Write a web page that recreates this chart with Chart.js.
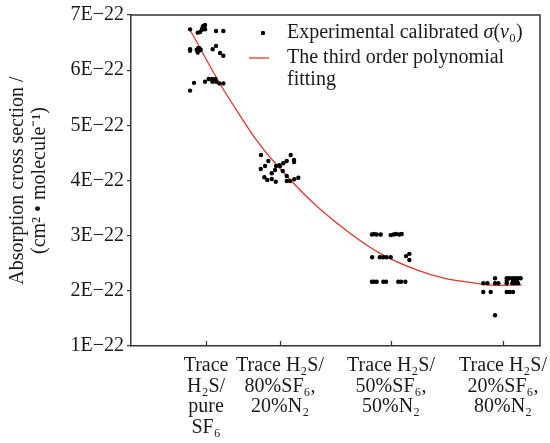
<!DOCTYPE html>
<html><head><meta charset="utf-8">
<script src="https://cdn.jsdelivr.net/npm/chart.js@4/dist/chart.umd.min.js"></script>
<style>html,body{margin:0;padding:0;background:#fff}#wrap{width:550px;height:443px}</style>
</head><body><div id="wrap"><canvas id="c" width="550" height="443"></canvas></div>
<script>
// Category labels and their positions on the x axis
const categoryLabels = [
  ["Trace", "H₂S/", "pure", "SF₆"],
  ["Trace H₂S/", "80%SF₆,", "20%N₂"],
  ["Trace H₂S/", "50%SF₆,", "50%N₂"],
  ["Trace H₂S/", "20%SF₆,", "80%N₂"]
];
const categoryPositions = [1, 1.667, 2.667, 3.676];
// y values are in units of 1E-22 cm^2/molecule
const yTickSuffix = "E−22";

// Experimental calibrated sigma(nu0)
const expX = [
  0.856,0.925,0.946,0.961,0.976,0.991,0.991,1.090,1.156,0.970,0.985,
  0.856,0.856,0.916,0.940,0.952,0.925,1.060,1.090,1.126,1.156,0.946,0.930,
  0.892,0.856,0.991,1.024,1.054,1.057,1.084,1.090,1.120,1.156,
  1.495,1.561,1.532,1.493,1.525,1.552,1.592,1.628,1.592,1.622,1.631,1.660,1.667,1.696,1.727,1.763,1.793,1.793,1.691,1.727,1.727,1.757,1.795,1.832,
  2.495,2.514,2.538,2.574,2.664,2.690,2.712,2.741,2.763,
  2.497,2.566,2.596,2.626,2.664,2.802,2.832,2.832,
  2.495,2.514,2.538,2.597,2.622,2.732,2.757,2.796,
  3.498,3.535,3.604,3.604,3.634,
  3.709,3.732,3.759,3.784,3.811,3.835,
  3.709,3.766,3.800,
  3.709,3.759,3.784,3.811,
  3.498,3.565,3.709,3.736,3.766,
  3.604
];
const expY = [
  6.74,6.68,6.69,6.73,6.80,6.82,6.74,6.71,6.71,6.78,6.77,
  6.38,6.35,6.37,6.40,6.37,6.32,6.38,6.44,6.31,6.26,6.36,6.40,
  5.77,5.63,5.79,5.84,5.84,5.79,5.84,5.79,5.76,5.76,
  4.462,4.354,4.263,4.209,4.058,4.009,4.027,3.978,4.131,4.191,4.263,4.276,4.263,4.312,4.354,4.462,4.372,4.336,4.172,4.082,3.991,3.991,4.022,4.051,
  3.02,3.03,3.02,3.02,3.01,3.02,3.03,3.02,3.03,
  2.61,2.61,2.61,2.61,2.61,2.63,2.67,2.56,
  2.166,2.166,2.166,2.166,2.166,2.166,2.166,2.166,
  2.137,2.137,2.227,2.137,2.137,
  2.227,2.227,2.227,2.227,2.227,2.227,
  2.184,2.184,2.184,
  2.137,2.137,2.137,2.137,
  1.979,1.979,1.979,1.979,1.979,
  1.557
];

// Third order polynomial fitting curve
const fitX = [0.856, 1.216, 1.637, 2.297, 2.898, 3.498, 3.844];
const fitY = [6.728, 5.459, 4.281, 3.043, 2.378, 2.119, 2.106];

const FONT = "'Liberation Serif','Times New Roman',serif";
const RED = '#e8352b';

const framePlugin = {
  id: 'frame',
  afterDraw(chart) {
    const {ctx, chartArea: a, scales: {x}} = chart;
    ctx.save();
    ctx.strokeStyle = '#333';
    ctx.lineWidth = 1.5;
    ctx.beginPath();
    ctx.moveTo(a.left, a.top); ctx.lineTo(a.right, a.top); ctx.lineTo(a.right, a.bottom);
    ctx.stroke();
    // inward ticks on the x axis
    ctx.lineWidth = 1.2;
    categoryPositions.forEach(v => {
      const px = Math.round(x.getPixelForValue(v)) + 0.5;
      ctx.beginPath(); ctx.moveTo(px, a.bottom); ctx.lineTo(px, a.bottom - 5); ctx.stroke();
    });
    // legend
    const lx = a.left;
    ctx.fillStyle = '#000';
    ctx.beginPath(); ctx.arc(lx + 132, 33, 2.2, 0, Math.PI * 2); ctx.fill();
    ctx.strokeStyle = RED; ctx.lineWidth = 1.3;
    ctx.beginPath(); ctx.moveTo(lx + 118, 58); ctx.lineTo(lx + 138, 58); ctx.stroke();
    ctx.fillStyle = '#1a1a1a';
    ctx.textBaseline = 'middle';
    ctx.textAlign = 'left';
    const parts = [
      ['normal', 'Experimental calibrated '],
      ['italic', 'σ'],
      ['normal', '('],
      ['italic', 'ν'],
      ['normal', '₀)']
    ];
    let tx = lx + 156;
    parts.forEach(([st, t]) => {
      ctx.font = st + ' 20px ' + FONT;
      ctx.fillText(t, tx, 33);
      tx += ctx.measureText(t).width;
    });
    ctx.font = '20px ' + FONT;
    ctx.fillText('The third order polynomial', lx + 156, 58);
    ctx.fillText('fitting', lx + 156, 80);
    ctx.restore();
  }
};

new Chart(document.getElementById('c'), {
  type: 'scatter',
  data: {
    datasets: [
      {
        label: 'Experimental calibrated σ(ν₀)',
        data: expX.map((x, i) => ({x, y: expY[i]})),
        backgroundColor: '#000', borderColor: '#000',
        pointRadius: 2.2, pointBorderWidth: 0, order: 1
      },
      {
        label: 'The third order polynomial fitting',
        type: 'line',
        data: fitX.map((x, i) => ({x, y: fitY[i]})),
        borderColor: RED, borderWidth: 1.3, pointRadius: 0,
        tension: 0.4, fill: false, order: 2
      }
    ]
  },
  options: {
    responsive: false, animation: false, devicePixelRatio: 1,
    layout: {padding: {top: 15, right: 10, left: 0, bottom: 0}},
    plugins: {legend: {display: false}, tooltip: {enabled: false}},
    scales: {
      x: {
        type: 'linear', min: 0.324, max: 4.009,
        afterBuildTicks: s => { s.ticks = categoryPositions.map(v => ({value: v})); },
        ticks: {
          callback: (v, i) => categoryLabels[i],
          autoSkip: false, maxRotation: 0, minRotation: 0,
          font: {family: FONT, size: 20, lineHeight: 1.02}, color: '#1a1a1a', padding: 2
        },
        grid: {display: false},
        border: {display: true, color: '#333', width: 1.5},
        afterFit: s => { s.height = 97; }
      },
      y: {
        type: 'linear', min: 1, max: 7,
        ticks: {
          stepSize: 1,
          callback: v => v + yTickSuffix,
          font: {family: FONT, size: 20}, color: '#1a1a1a', padding: 3
        },
        grid: {display: true, drawOnChartArea: false, tickLength: 4, color: '#333', lineWidth: 1.2},
        border: {display: true, color: '#333', width: 1.5},
        title: {
          display: true,
          text: ['Absorption cross section /', '(cm² • molecule⁻¹)'],
          font: {family: FONT, size: 20, lineHeight: 1.1}, color: '#1a1a1a',
          padding: {top: 7, bottom: 0}
        },
        afterFit: s => { s.width = 131; }
      }
    }
  },
  plugins: [framePlugin]
});
</script>
</body></html>
